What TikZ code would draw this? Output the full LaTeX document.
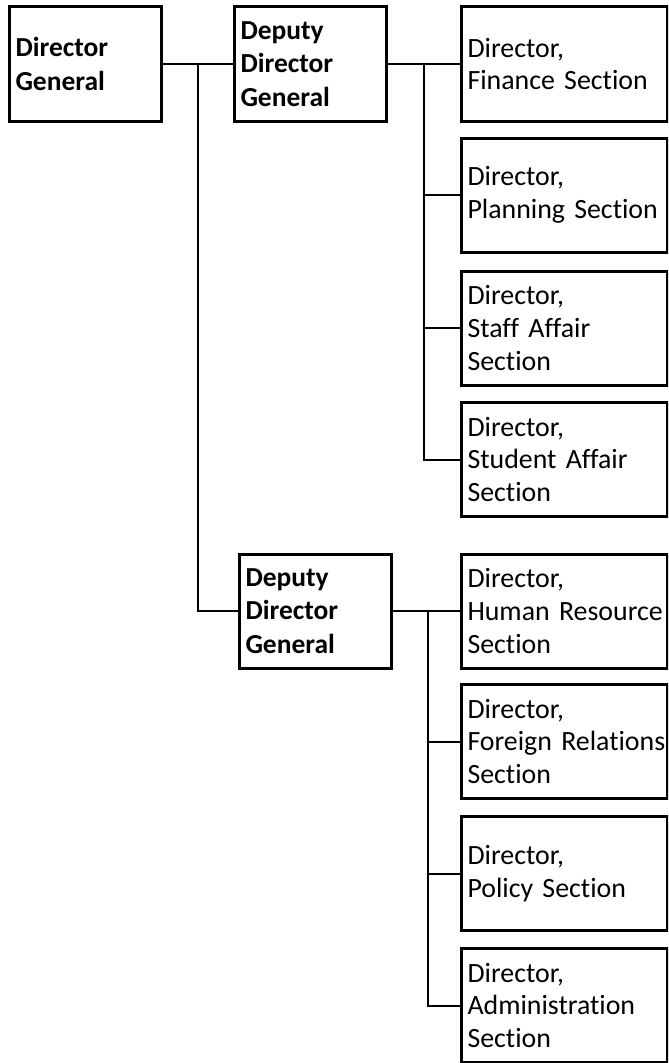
\documentclass[tikz,border=0pt]{standalone}
\usepackage{fontspec}
\setmainfont{Carlito}[Ligatures=NoCommon, WordSpace=0.75]
\hyphenpenalty=10000
\exhyphenpenalty=10000
\begin{document}
\begin{tikzpicture}[x=0.75pt, y=-0.75pt,
    post/.style={draw, rectangle, line width=2.25pt, inner xsep=4.5pt, inner ysep=0pt,
      minimum height=85.5pt, align=left},
    head/.style={post, text width=105pt, font=\fontsize{20.6}{25.1}\selectfont\bfseries},
    office/.style={post, text width=145.5pt, font=\fontsize{20.9}{24.6}\selectfont},
    link/.style={line width=1.5pt}]
  \useasboundingbox (0,0) rectangle (668,1063);
  \clip (0,0) rectangle (668,1063);

  \node [head] (dg) at (85.5,64) {Director\\General};
  \node [head] (dep1) at (310.5,64) {Deputy\\Director\\General};
  \node [head] (dep2) at (315.5,611) {Deputy\\Director\\General};

  \node [office] (fin) at (564.5,64) {Director,\\Finance~Section};
  \node [office] (plan) at (564.5,195) {Director,\\Planning~Section};
  \node [office] (staff) at (564.5,328) {Director,\\Staff~Affair\\Section};
  \node [office] (stud) at (564.5,459.5) {Director,\\Student~Affair\\Section};
  \node [office] (hr) at (564.5,611) {Director,\\Human~Resource\\Section};
  \node [office] (foreign) at (564.5,741.5) {Director,\\Foreign~Relations\\Section};
  \node [office] (policy) at (564.5,873.5) {Director,\\Policy~Section};
  \node [office] (admin) at (564.5,1005.5) {Director,\\Administration\\Section};

  \coordinate (j1) at (198,64);
  \coordinate (j2) at (424,64);
  \coordinate (j3) at (428,611);

  \draw [link] (dg) -- (dep1);
  \draw [link] (j1) |- (dep2.west);

  \draw [link] (dep1) -- (fin);
  \draw [link] (j2) |- (stud.west);
  \foreach \n in {plan, staff}
    \draw [link] (j2 |- \n.west) -- (\n.west);

  \draw [link] (dep2) -- (hr);
  \draw [link] (j3) |- (admin.west);
  \foreach \n in {foreign, policy}
    \draw [link] (j3 |- \n.west) -- (\n.west);
\end{tikzpicture}
\end{document}
